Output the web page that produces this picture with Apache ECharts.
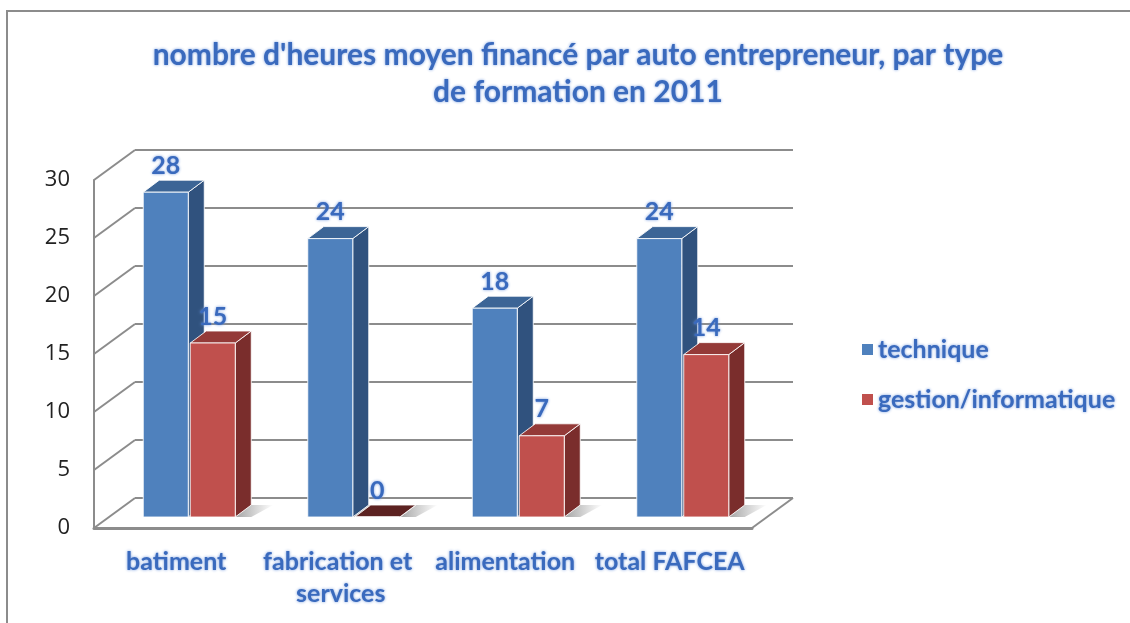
<!DOCTYPE html>
<html>
<head>
<meta charset="utf-8">
<title>nombre d'heures moyen financé par auto entrepreneur</title>
<script src="https://cdn.jsdelivr.net/npm/echarts@6/dist/echarts.min.js"></script>
<style>
  html, body { margin: 0; padding: 0; background: #fff; }
  #chart { width: 1130px; height: 623px; }
</style>
</head>
<body>
<div id="chart"></div>
<script>
// données
const categories = ['batiment', 'fabrication et services', 'alimentation', 'total FAFCEA']
const technique = [28, 24, 18, 24]
const gestion = [15, 0, 7, 14]
const yTicks = [0, 5, 10, 15, 20, 25, 30]

// géométrie de la vue 3D
const DEPTH_X = 41, DEPTH_Y = -30      // profondeur des murs
const SHIFT_X = 13, SHIFT_Y = -11      // plan avant des barres
const BAR_DX = 16, BAR_DY = -12        // profondeur des barres
const BAR_W = 45, BAR_GAP = 2

const BLUE = { front: '#4f81bd', top: '#3c6596', side: '#30527e' }
const RED = { front: '#c0504d', top: '#943a38', side: '#7a2d2c', flat: '#5c2221' }
const TEXT_BLUE = '#3a6abd'
const GLOW = 'rgba(110,150,220,0.95)'
const GRID_GRAY = '#8c8c8c'
const FONT = 'Lato, "Liberation Sans", sans-serif'

const chart = echarts.init(document.getElementById('chart'))

// barre en pseudo 3D
const barRenderer = (colors, side) => (params, api) => {
  const cat = api.value(0)
  const val = api.value(1)
  const base = api.coord([cat, 0])
  const top = api.coord([cat, val])
  const cx = base[0] + SHIFT_X
  const x0 = side < 0 ? cx - BAR_GAP / 2 - BAR_W : cx + BAR_GAP / 2
  const x1 = x0 + BAR_W
  const yb = base[1] + SHIFT_Y
  const yt = top[1] + SHIFT_Y
  const stroke = { stroke: 'rgba(255,255,255,0.85)', lineWidth: 1 }
  return {
    type: 'group',
    children: [
      {
        type: 'polygon',
        shape: { points: [[x1, yb], [x1 + BAR_DX, yb + BAR_DY], [x1 + BAR_DX + 22, yb + BAR_DY], [x1 + 16, yb]] },
        style: {
          fill: new echarts.graphic.LinearGradient(0, 0, 1, 0, [
            { offset: 0, color: 'rgba(90,90,90,0.55)' },
            { offset: 1, color: 'rgba(90,90,90,0)' }
          ])
        },
        silent: true
      },
      {
        type: 'polygon',
        shape: { points: [[x1, yt], [x1 + BAR_DX, yt + BAR_DY], [x1 + BAR_DX, yb + BAR_DY], [x1, yb]] },
        style: Object.assign({ fill: colors.side }, stroke)
      },
      {
        type: 'polygon',
        shape: { points: [[x0, yt], [x0 + BAR_DX, yt + BAR_DY], [x1 + BAR_DX, yt + BAR_DY], [x1, yt]] },
        style: Object.assign({ fill: val === 0 && colors.flat ? colors.flat : colors.top }, stroke)
      },
      {
        type: 'rect',
        shape: { x: x0, y: yt, width: BAR_W, height: yb - yt },
        style: Object.assign({ fill: colors.front }, stroke)
      },
      {
        type: 'text',
        style: {
          x: (x0 + x1) / 2,
          y: yt + BAR_DY - 2,
          text: String(val),
          align: 'center',
          verticalAlign: 'bottom',
          fill: TEXT_BLUE,
          font: 'bold 25px ' + FONT,
          textShadowColor: GLOW,
          textShadowBlur: 3
        }
      }
    ]
  }
}

// mur gauche et bord droit du sol
const wallRenderer = (params, api) => {
  const cs = params.coordSys
  const y = api.coord([0, api.value(1)])[1]
  const line = (x1, y1, x2, y2) => ({
    type: 'line',
    shape: { x1, y1, x2, y2 },
    style: { stroke: GRID_GRAY, lineWidth: 2 }
  })
  const children = [line(cs.x, y, cs.x + DEPTH_X, y + DEPTH_Y)]
  if (api.value(1) === 0) {
    const xr = cs.x + cs.width
    children.push(line(xr, y, xr + DEPTH_X, y + DEPTH_Y))
  }
  return { type: 'group', children }
}

const blueText = (size, lineHeight) => ({
  fontFamily: FONT,
  fontWeight: 'bold',
  fontSize: size,
  lineHeight: lineHeight,
  color: TEXT_BLUE,
  textShadowColor: GLOW,
  textShadowBlur: 3
})

const option = {
  animation: false,
  backgroundColor: '#fff',
  title: {
    text: "nombre d'heures moyen financé par auto entrepreneur, par type\nde formation en 2011",
    left: 573,
    top: 32,
    textAlign: 'center',
    textStyle: blueText(30, 37)
  },
  legend: {
    orient: 'vertical',
    left: 857,
    top: 332,
    icon: 'rect',
    itemWidth: 11,
    itemHeight: 11,
    itemGap: 25,
    data: ['technique', 'gestion/informatique'],
    textStyle: blueText(25, 24)
  },
  graphic: [
    {
      type: 'rect',
      shape: { x: 7, y: 11, width: 1300, height: 800 },
      style: { fill: 'none', stroke: GRID_GRAY, lineWidth: 2 },
      z: -10,
      silent: true
    }
  ],
  grid: [
    { left: 94, right: 378, top: 180, bottom: 95 },   // plan avant
    { left: 135, right: 337, top: 150, bottom: 125 }  // mur du fond
  ],
  xAxis: [
    {
      type: 'category',
      gridIndex: 0,
      data: categories,
      axisLine: { show: true, lineStyle: { color: GRID_GRAY, width: 3 } },
      axisTick: { show: false },
      axisLabel: Object.assign({
        interval: 0,
        margin: 18,
        width: 160,
        overflow: 'break'
      }, blueText(25, 32))
    },
    {
      type: 'category',
      gridIndex: 1,
      data: categories,
      show: false
    }
  ],
  yAxis: [
    {
      type: 'value',
      gridIndex: 0,
      min: 0,
      max: 30,
      interval: 5,
      axisLine: { show: true, lineStyle: { color: GRID_GRAY, width: 2 } },
      axisTick: { show: false },
      splitLine: { show: false },
      axisLabel: { margin: 24, fontFamily: '"Open Sans", sans-serif', fontSize: 22, color: '#222' }
    },
    {
      type: 'value',
      gridIndex: 1,
      min: 0,
      max: 30,
      interval: 5,
      axisLine: { show: false },
      axisTick: { show: false },
      axisLabel: { show: false },
      splitLine: { show: true, lineStyle: { color: GRID_GRAY, width: 2 } }
    }
  ],
  series: [
    {
      name: 'murs',
      type: 'custom',
      xAxisIndex: 0,
      yAxisIndex: 0,
      renderItem: wallRenderer,
      data: yTicks.map(v => [0, v]),
      silent: true,
      z: 1
    },
    {
      name: 'technique',
      type: 'custom',
      xAxisIndex: 0,
      yAxisIndex: 0,
      itemStyle: { color: BLUE.front },
      renderItem: barRenderer(BLUE, -1),
      data: technique.map((v, i) => [i, v]),
      z: 3
    },
    {
      name: 'gestion/informatique',
      type: 'custom',
      xAxisIndex: 0,
      yAxisIndex: 0,
      itemStyle: { color: RED.front },
      renderItem: barRenderer(RED, 1),
      data: gestion.map((v, i) => [i, v]),
      z: 4
    }
  ]
}

chart.setOption(option)

window.addEventListener('resize', () => chart.resize())
</script>
</body>
</html>
